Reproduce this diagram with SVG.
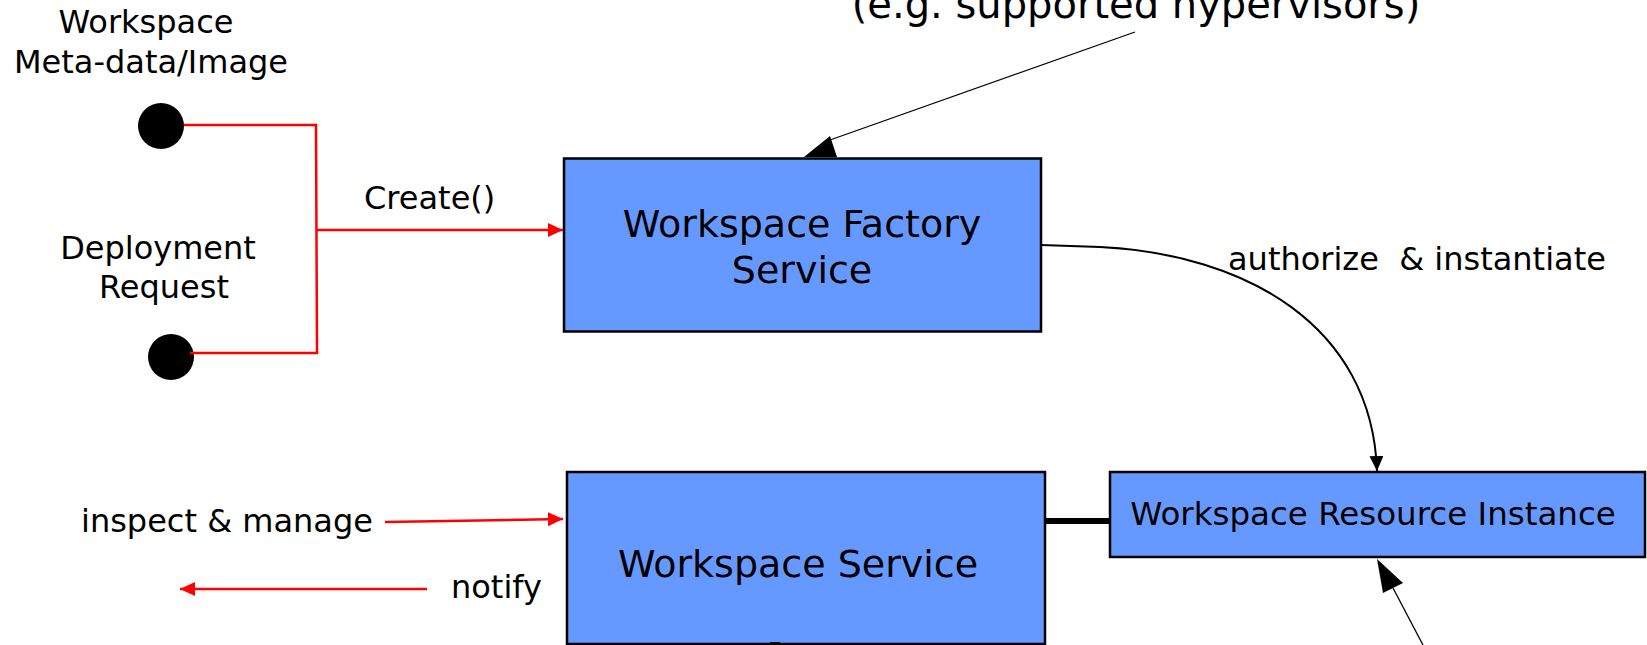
<svg xmlns="http://www.w3.org/2000/svg" width="1647" height="645" viewBox="0 0 1647 645">
<style>
text{font-family:"DejaVu Sans",Verdana,sans-serif;fill:#000;}
.lbl{font-size:32px;}
.big{font-size:38px;}
.box{fill:#6699FF;stroke:#000;stroke-width:2.5;}
.red{fill:none;stroke:#FF0000;stroke-width:2.5;}
.blk{fill:none;stroke:#000;stroke-width:1.3;}
</style>
<defs>
<marker id="ra" markerUnits="userSpaceOnUse" markerWidth="16" markerHeight="16" refX="15" refY="7" orient="auto"><path d="M0,0 L15,7 L0,14 Z" fill="#FF0000"/></marker>
<marker id="ba" markerUnits="userSpaceOnUse" markerWidth="16" markerHeight="16" refX="15" refY="7" orient="auto"><path d="M0,0 L15,7 L0,14 Z" fill="#000"/></marker>
</defs>
<text x="1136" y="18" style="font-size:40px" text-anchor="middle">(e.g. supported hypervisors)</text>
<g id="meta-data">
<text class="lbl" x="146" y="33" text-anchor="middle">Workspace</text>
<text class="lbl" x="151" y="73" text-anchor="middle">Meta-data/Image</text>
<circle cx="161" cy="126" r="23" fill="#000"/>
</g>
<g id="deployment-request">
<text class="lbl" x="158" y="259" text-anchor="middle">Deployment</text>
<text class="lbl" x="164" y="298" text-anchor="middle">Request</text>
<circle cx="171" cy="357" r="23" fill="#000"/>
</g>
<g id="factory">
<rect class="box" x="564" y="158.5" width="477" height="173"/>
<text class="big" x="802" y="237" text-anchor="middle">Workspace Factory</text>
<text class="big" x="802" y="283" text-anchor="middle">Service</text>
</g>
<g id="workspace-service">
<rect class="box" x="567" y="472" width="478" height="172"/>
<text class="big" x="798" y="577" text-anchor="middle">Workspace Service</text>
</g>
<g id="resource-instance">
<rect class="box" x="1110" y="472" width="535" height="85"/>
<text class="lbl" x="1373" y="525" text-anchor="middle" style="font-size:32.5px">Workspace Resource Instance</text>
</g>
<g id="connectors">
<polyline class="red" points="184,125 316,125 317,353 190,353"/>
<line class="red" x1="317" y1="230" x2="563" y2="230" marker-end="url(#ra)"/>
<text class="lbl" x="364" y="209">Create()</text>
<line class="red" x1="385" y1="522" x2="563" y2="519" marker-end="url(#ra)"/>
<text class="lbl" x="81" y="532">inspect &amp; manage</text>
<line class="red" x1="427" y1="589" x2="180" y2="589" stroke-width="3" marker-end="url(#ra)"/>
<text class="lbl" x="451" y="598">notify</text>
<path d="M1041,245 L1100,247 C1245,254 1372,325 1377,471" fill="none" stroke="#000" stroke-width="2" marker-end="url(#ba)"/>
<text class="lbl" x="1228" y="270" xml:space="preserve">authorize  &amp; instantiate</text>
<line class="blk" x1="1135" y1="32" x2="830" y2="140"/>
<polygon points="830,136 804,157 837,157" fill="#000"/>
<line x1="1045" y1="521" x2="1110" y2="521" stroke="#000" stroke-width="6"/>
<line class="blk" x1="1393" y1="588" x2="1423" y2="645"/>
<polygon points="1377,559 1383,593 1403,583" fill="#000"/>
<line x1="770" y1="643" x2="780" y2="643" stroke="#000" stroke-width="2"/>
</g>
</svg>
